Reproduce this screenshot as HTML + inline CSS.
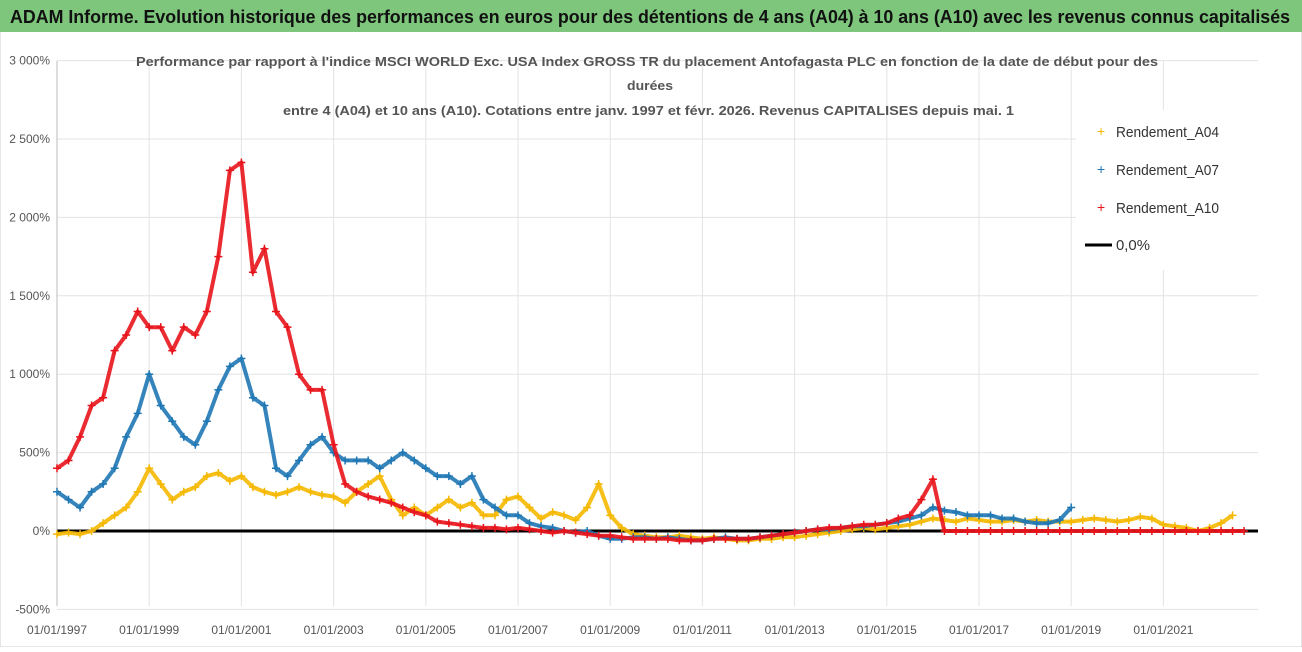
<!DOCTYPE html>
<html><head><meta charset="utf-8"><style>
body{margin:0;background:#fff;width:1302px;height:647px;overflow:hidden;font-family:"Liberation Sans",sans-serif}
</style></head><body>
<svg id="chart" width="1302" height="647" xmlns="http://www.w3.org/2000/svg">
<rect x="0" y="0" width="1302" height="647" fill="#fff" stroke="#ccc"/>
<rect x="0" y="0" width="1302" height="32" fill="#7dc67c"/>
<text x="10" y="23" font-size="18" font-weight="bold" fill="#111" textLength="1280" lengthAdjust="spacingAndGlyphs">ADAM Informe. Evolution historique des performances en euros pour des détentions de 4 ans (A04) à 10 ans (A10) avec les revenus connus capitalisés</text>
<g id="grid"></g>
<g font-size="13" font-weight="bold" fill="#555">
<text x="136" y="66" textLength="1022" lengthAdjust="spacingAndGlyphs">Performance par rapport à l'indice MSCI WORLD Exc. USA Index GROSS TR  du placement Antofagasta PLC en fonction de la date de début pour des</text>
<text x="627" y="90" textLength="46" lengthAdjust="spacingAndGlyphs">durées</text>
<text x="283" y="115" textLength="731" lengthAdjust="spacingAndGlyphs">entre 4 (A04) et 10 ans (A10). Cotations entre janv. 1997 et févr. 2026. Revenus CAPITALISES depuis mai. 1</text>
</g>
<g id="axes" font-size="12" fill="#555"></g>
<g id="series"></g>
<g font-size="15" fill="#333">
<rect x="1076" y="110" width="190" height="160" fill="#fff"/>
<text x="1097" y="136" fill="#f5b800" font-size="14">+</text><text x="1116" y="137" textLength="103" lengthAdjust="spacingAndGlyphs">Rendement_A04</text>
<text x="1097" y="174" fill="#1f77b4" font-size="14">+</text><text x="1116" y="175" textLength="103" lengthAdjust="spacingAndGlyphs">Rendement_A07</text>
<text x="1097" y="212" fill="#e8141b" font-size="14">+</text><text x="1116" y="213" textLength="103" lengthAdjust="spacingAndGlyphs">Rendement_A10</text>
<line x1="1085" y1="245" x2="1112" y2="245" stroke="#000" stroke-width="3"/><text x="1116" y="250" textLength="34" lengthAdjust="spacingAndGlyphs">0,0%</text>
</g>
</svg>
<script>
const yTicks=[3000,2500,2000,1500,1000,500,0,-500];
const yTickLabels=["3 000%","2 500%","2 000%","1 500%","1 000%","500%","0%","-500%"];
const xTickYears=[1997,1999,2001,2003,2005,2007,2009,2011,2013,2015,2017,2019,2021];
const startYear=1997;
const endYear=2023.05;
const a04=[-20,-10,-20,0,50,100,150,250,400,300,200,250,280,350,370,320,350,280,250,230,250,280,250,230,220,180,250,300,350,200,100,150,100,150,200,150,180,100,100,200,220,150,80,120,100,70,150,300,100,20,-20,-30,-40,-40,-30,-40,-50,-40,-50,-60,-60,-50,-50,-40,-40,-30,-20,-10,0,10,20,10,20,30,40,60,80,70,60,80,70,60,60,70,60,70,60,60,60,70,80,70,60,70,90,80,40,30,20,0,20,50,100];
const a07=[250,200,150,250,300,400,600,750,1000,800,700,600,550,700,900,1050,1100,850,800,400,350,450,550,600,500,450,450,450,400,450,500,450,400,350,350,300,350,200,150,100,100,50,30,20,0,-10,0,-30,-50,-50,-40,-40,-50,-40,-50,-60,-60,-50,-40,-50,-50,-40,-30,-20,-10,0,10,10,20,30,30,40,50,60,80,100,150,130,120,100,100,100,80,80,60,50,50,70,150];
const a10=[400,450,600,800,850,1150,1250,1400,1300,1300,1150,1300,1250,1400,1750,2300,2350,1650,1800,1400,1300,1000,900,900,550,300,250,220,200,180,150,120,100,60,50,40,30,20,20,10,20,10,0,-10,0,-10,-20,-30,-30,-40,-50,-50,-50,-50,-60,-60,-60,-50,-50,-50,-50,-40,-30,-20,-10,0,10,20,20,30,40,40,50,80,100,200,330,0,0,0,0,0,0,0,0,0,0,0,0,0,0,0,0,0,0,0,0,0,0,0,0,0,0,0];
const NS="http://www.w3.org/2000/svg";
const X=yr=>57+(yr-startYear)*46.1;
const Y=v=>531-v*0.1568;
const grid=document.getElementById('grid'),axes=document.getElementById('axes'),series=document.getElementById('series');
function mk(tag,attrs,parent){const e=document.createElementNS(NS,tag);for(const k in attrs)e.setAttribute(k,attrs[k]);parent.appendChild(e);return e;}
yTicks.forEach((v,i)=>{
  const l=mk('line',{x1:57,x2:1258,y1:Y(v),y2:Y(v),stroke:'#e3e3e3'},grid);
  
  
  const t=mk('text',{x:50,y:Y(v)+4,'text-anchor':'end'},axes);t.textContent=yTickLabels[i];
  
  
});
xTickYears.forEach(yr=>{
  const l=mk('line',{x1:X(yr),x2:X(yr),y1:61,y2:606,stroke:'#e3e3e3'},grid);
  
  
  const t=mk('text',{x:X(yr),y:634,'text-anchor':'middle'},axes);t.textContent='01/01/'+yr;
  
  
});
const ax=mk('line',{x1:57,x2:57,y1:61,y2:606,stroke:'#bbb'},axes);


function draw(arr,color,name){
  const g=mk('g',{},series);
  
  
  const vis=arr.map((v,i)=>[startYear+i/4,v]).filter(d=>d[0]<=endYear);
  const pts=vis.map(d=>X(d[0]).toFixed(1)+','+Y(d[1]).toFixed(1)).join(' ');
  mk('polyline',{points:pts,fill:'none',stroke:color,'stroke-width':4,'stroke-linejoin':'round',opacity:0.9},g);
  vis.forEach(d=>{
    const cx=X(d[0]),cy=Y(d[1]);
    const p=mk('path',{d:`M${cx-4},${cy}h8M${cx},${cy-4}v8`,stroke:color,'stroke-width':1.5},g);
    
    
  });
}
draw(a04,'#f5b800','series-a04');
draw(a07,'#1f77b4','series-a07');
draw(a10,'#e8141b','series-a10');
const z=mk('line',{x1:57,x2:1258,y1:Y(0),y2:Y(0),stroke:'#000','stroke-width':3},series);


series.insertBefore(z,series.firstChild);
</script>
</body></html>
